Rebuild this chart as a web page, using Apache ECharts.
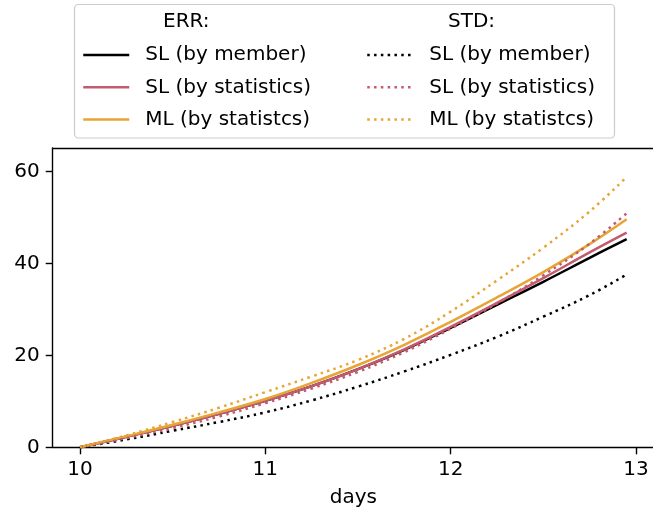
<!DOCTYPE html>
<html>
<head>
<meta charset="utf-8">
<script src="https://cdn.jsdelivr.net/npm/echarts@6/dist/echarts.min.js"></script>
<style>
  html, body { margin: 0; padding: 0; background: #ffffff; }
  #chart { width: 653px; height: 510px; }
</style>
</head>
<body>
<div id="chart"></div>
<script>
// ---- data ----
const days = [10, 10.25, 10.5, 10.75, 11, 11.25, 11.5, 11.75, 12, 12.25, 12.5, 12.75, 12.95];
const slMemberErr = [0, 2.3, 4.7, 7.3, 10.1, 13.3, 17.0, 21.2, 26.0, 31.0, 36.0, 41.2, 45.3];
const slStatErr   = [0, 2.3, 4.7, 7.3, 10.1, 13.3, 17.0, 21.3, 26.2, 31.4, 36.8, 42.4, 46.7];
const mlStatErr   = [0, 2.4, 4.9, 7.6, 10.5, 14.0, 17.9, 22.3, 27.3, 32.6, 38.1, 44.2, 49.6];
const slMemberStd = [0, 1.7, 3.6, 5.5, 7.6, 10.2, 13.2, 16.5, 20.1, 24.0, 28.4, 33.1, 37.6];
const slStatStd   = [0, 2.0, 4.2, 6.7, 9.6, 12.8, 16.4, 20.7, 25.8, 31.3, 37.4, 44.3, 50.9];
const mlStatStd   = [0, 2.6, 5.5, 8.6, 12.0, 15.4, 19.0, 23.6, 29.5, 36.3, 43.4, 51.3, 58.8];
const xTicks = [10, 11, 12, 13];
const yTicks = [0, 20, 40, 60];
const labels = ['SL (by member)', 'SL (by statistics)', 'ML (by statistcs)'];
const headers = ['ERR:', 'STD:'];

// ---- styling ----
const FONT = 'DejaVu Sans';
const colors = ['#000000', '#c45a6f', '#e6a535'];
const LW = 2.5;
const DOT = [2.5, 4.3];

function pairs(ys) { return days.map((d, i) => [d, ys[i]]); }

const errData = [slMemberErr, slStatErr, mlStatErr];
const stdData = [slMemberStd, slStatStd, mlStatStd];

const series = [];
errData.forEach((ys, i) => {
  series.push({
    name: 'ERR|' + labels[i], type: 'line', data: pairs(ys),
    symbol: 'none',
    smooth: 0.4, lineStyle: { color: colors[i], width: LW, type: 'solid' },
    itemStyle: { color: colors[i] }, z: 2 + i, animation: false
  });
});
stdData.forEach((ys, i) => {
  series.push({
    name: 'STD|' + labels[i], type: 'line', data: pairs(ys),
    symbol: 'none',
    smooth: 0.4, lineStyle: { color: colors[i], width: LW, type: DOT, cap: 'butt' },
    itemStyle: { color: colors[i] }, z: 5 + i, animation: false
  });
});

const legendCommon = {
  orient: 'vertical', itemWidth: 46, itemHeight: 14, itemGap: 10.3, padding: 0,
  selectedMode: false,
  itemStyle: { opacity: 0, borderWidth: 0 },
  lineStyle: { width: LW },
  formatter: n => n.split('|')[1],
  textStyle: { fontFamily: FONT, fontSize: 20, color: '#000', lineHeight: 22, padding: [0, 0, 0, 11] }
};

const chart = echarts.init(document.getElementById('chart'), null, { renderer: 'canvas' });
chart.setOption({
  animation: false,
  backgroundColor: '#ffffff',
  grid: { left: 52.7, top: 148, right: -1, bottom: 62.7, containLabel: false, outerBoundsMode: 'none' },
  xAxis: [{
    type: 'value', min: 9.8525, max: 13.0975,
    name: 'days', nameLocation: 'middle', nameGap: 40,
    nameTextStyle: { fontFamily: FONT, fontSize: 20, color: '#000' },
    axisLine: { show: true, onZero: false, lineStyle: { color: '#000', width: 1.4 } },
    axisTick: { show: true, length: 7, lineStyle: { color: '#000', width: 1.4 }, customValues: xTicks },
    axisLabel: { fontFamily: FONT, fontSize: 20, color: '#000', margin: 12, customValues: xTicks },
    splitLine: { show: false }
  }, {
    type: 'value', position: 'top', min: 9.8525, max: 13.0975,
    axisLine: { show: true, onZero: false, lineStyle: { color: '#000', width: 1.4 } },
    axisTick: { show: false }, axisLabel: { show: false }, splitLine: { show: false }
  }],
  yAxis: {
    type: 'value', min: 0, max: 65.1,
    axisLine: { show: true, onZero: false, lineStyle: { color: '#000', width: 1.4 } },
    axisTick: { show: true, length: 7, lineStyle: { color: '#000', width: 1.4 }, customValues: yTicks },
    axisLabel: { fontFamily: FONT, fontSize: 20, color: '#000', margin: 13, customValues: yTicks },
    splitLine: { show: false }
  },
  legend: [
    Object.assign({}, legendCommon, { left: 82, top: 44, data: labels.map(l => 'ERR|' + l) }),
    Object.assign({}, legendCommon, { left: 366, top: 44, data: labels.map(l => 'STD|' + l) })
  ],
  graphic: [
    { type: 'rect', z: -1, silent: true,
      shape: { x: 74.5, y: 4.5, width: 540, height: 133.5, r: 4 },
      style: { fill: 'rgba(255,255,255,0.8)', stroke: '#cccccc', lineWidth: 1.2 } },
    { type: 'text', left: 163, top: 12, silent: true,
      style: { text: headers[0], font: '20px "DejaVu Sans"', fill: '#000' } },
    { type: 'text', left: 448, top: 12, silent: true,
      style: { text: headers[1], font: '20px "DejaVu Sans"', fill: '#000' } }
  ],
  series: series
});
</script>
</body>
</html>
